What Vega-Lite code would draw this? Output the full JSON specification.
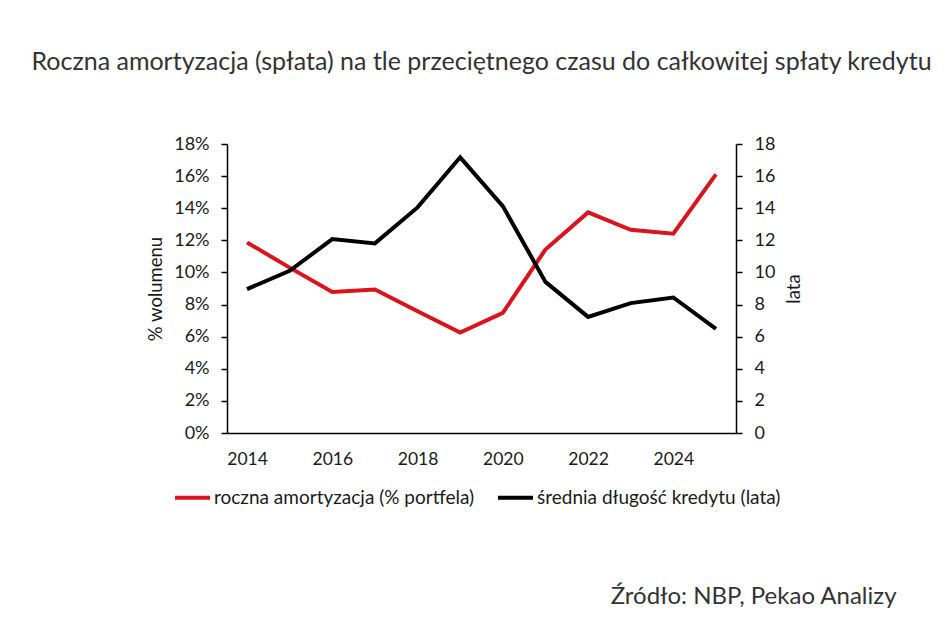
{
  "$schema": "https://vega.github.io/schema/vega-lite/v6.json",
  "autosize": "none",
  "width": 509,
  "height": 289,
  "padding": {"left": 227, "top": 144, "right": 212, "bottom": 206},
  "background": "white",
  "config": {
    "view": {"stroke": null},
    "font": "Lato",
    "axis": {"grid": false, "domainColor": "#000000", "tickColor": "#000000", "labelColor": "#1a1a1a", "titleColor": "#1a1a1a", "labelFont": "Lato", "titleFont": "Lato", "titleFontWeight": "normal"}
  },
  "title": {
    "text": "Roczna amortyzacja (spłata) na tle przeciętnego czasu do całkowitej spłaty kredytu",
    "font": "Lato",
    "fontSize": 25,
    "fontWeight": "normal",
    "color": "#333333",
    "anchor": "middle",
    "frame": "group",
    "baseline": "alphabetic",
    "offset": 40
  },
  "data": {
    "values": [
      {"rok": 2014, "amortyzacja": 11.87, "dlugosc": 8.96},
      {"rok": 2015, "amortyzacja": 10.3, "dlugosc": 10.1},
      {"rok": 2016, "amortyzacja": 8.79, "dlugosc": 12.08},
      {"rok": 2017, "amortyzacja": 8.94, "dlugosc": 11.81},
      {"rok": 2018, "amortyzacja": 7.58, "dlugosc": 14.05},
      {"rok": 2019, "amortyzacja": 6.26, "dlugosc": 17.17},
      {"rok": 2020, "amortyzacja": 7.48, "dlugosc": 14.13},
      {"rok": 2021, "amortyzacja": 11.43, "dlugosc": 9.41},
      {"rok": 2022, "amortyzacja": 13.74, "dlugosc": 7.23},
      {"rok": 2023, "amortyzacja": 12.66, "dlugosc": 8.09},
      {"rok": 2024, "amortyzacja": 12.41, "dlugosc": 8.44},
      {"rok": 2025, "amortyzacja": 16.11, "dlugosc": 6.48}
    ]
  },
  "encoding": {
    "x": {
      "field": "rok",
      "type": "quantitative",
      "scale": {"domain": [2013.53, 2025.47], "nice": false, "zero": false},
      "axis": {
        "values": [2014, 2016, 2018, 2020, 2022, 2024],
        "format": "d",
        "ticks": false,
        "labelPadding": 17,
        "labelFontSize": 17.5,
        "domainWidth": 1.5,
        "title": "Źródło: NBP, Pekao Analizy",
        "titleFontSize": 24,
        "titleColor": "#333333",
        "titleAlign": "right",
        "titleBaseline": "alphabetic",
        "titleX": 669,
        "titleY": 170
      }
    },
    "color": {
      "type": "nominal",
      "scale": {
        "domain": ["roczna amortyzacja (% portfela)", "średnia długość kredytu (lata)"],
        "range": ["#D9141C", "#000000"]
      },
      "legend": {
        "title": null,
        "orient": "none",
        "direction": "horizontal",
        "legendX": -54,
        "legendY": 334,
        "symbolType": "stroke",
        "symbolSize": 1225,
        "symbolStrokeWidth": 4,
        "labelFont": "Lato",
        "labelFontSize": 19,
        "labelColor": "#1a1a1a",
        "labelOffset": 2,
        "columnPadding": 15,
        "labelLimit": 400
      }
    }
  },
  "layer": [
    {
      "mark": {"type": "line", "strokeWidth": 4},
      "encoding": {
        "y": {
          "field": "amortyzacja",
          "type": "quantitative",
          "scale": {"domain": [0, 18], "nice": false},
          "axis": {
            "values": [0, 2, 4, 6, 8, 10, 12, 14, 16, 18],
            "labelExpr": "datum.value + '%'",
            "tickSize": 6,
            "labelPadding": 12,
            "labelFontSize": 18,
            "domainWidth": 1.5,
            "tickWidth": 1.5,
            "title": "% wolumenu",
            "titleFontSize": 18.5,
            "titlePadding": 8
          }
        },
        "color": {"datum": "roczna amortyzacja (% portfela)"}
      }
    },
    {
      "mark": {"type": "line", "strokeWidth": 4},
      "encoding": {
        "y": {
          "field": "dlugosc",
          "type": "quantitative",
          "scale": {"domain": [0, 18], "nice": false},
          "axis": {
            "orient": "right",
            "values": [0, 2, 4, 6, 8, 10, 12, 14, 16, 18],
            "tickSize": 6,
            "labelPadding": 12,
            "labelFontSize": 18,
            "domainWidth": 1.5,
            "tickWidth": 1.5,
            "title": "lata",
            "titleAngle": 270,
            "titleFontSize": 18.5,
            "titlePadding": 29
          }
        },
        "color": {"datum": "średnia długość kredytu (lata)"}
      }
    }
  ],
  "resolve": {"scale": {"y": "independent"}}
}
